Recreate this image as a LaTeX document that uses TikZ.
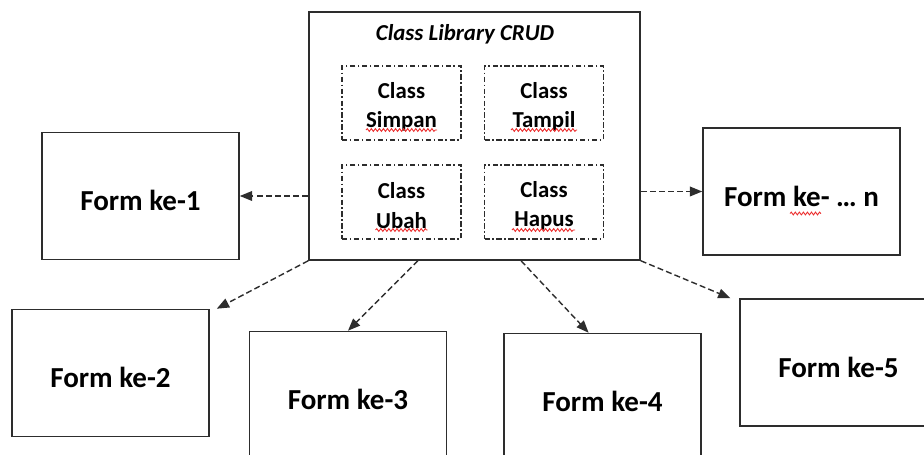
\documentclass[tikz,border=0pt]{standalone}
\usepackage{fontspec}
\setmainfont{Carlito}
\usetikzlibrary{arrows.meta, positioning, calc, decorations.pathmorphing}
\definecolor{boxline}{RGB}{45,45,45}
\definecolor{spellred}{RGB}{235,45,45}
\newcommand{\lowstrut}{\rule{0pt}{13.5pt}}

\begin{document}
\begin{tikzpicture}[x=0.02cm, y=-0.02cm,
    formbox/.style={draw=boxline, line width=0.9pt, minimum width=3.94cm, minimum height=2.54cm, inner sep=0pt, text height=17pt, text depth=0pt, font=\fontsize{16.5}{20}\selectfont\bfseries},
    classbox/.style={draw=boxline, line width=0.6pt, dash pattern=on 3pt off 1.5pt on 0.8pt off 1.5pt, minimum width=2.38cm, minimum height=1.48cm, inner sep=0pt, align=center, font=\fontsize{13}{17}\selectfont\bfseries},
    link/.style={-{Triangle[length=7pt,width=5.5pt]}, boxline, line width=0.8pt, dash pattern=on 3.4pt off 1.8pt},
    spell/.style={spellred, line width=0.5pt, decorate, decoration={snake, amplitude=0.8pt, segment length=2.3pt}}]
\useasboundingbox (0,0) rectangle (924,455);
\clip (0,0) rectangle (924,455);

% Class library box
\node[draw=boxline, line width=0.9pt, minimum width=6.62cm, minimum height=4.96cm] (crud) at (474.5,136) {};
\node[font=\fontsize{13}{16}\selectfont\bfseries\itshape] (title) at (465,34) {Class Library CRUD};

\node[classbox] (simpan) at (401.5,103) {\lowstrut Class\\Simpan};
\node[classbox] (tampil) at (544,103) {\lowstrut Class\\Tampil};
\node[classbox] (ubah) at (401.5,202) {\lowstrut Class\\Ubah};
\node[classbox] (hapus) at (544,202) {\lowstrut Class\\Hapus};

% Forms
\node[formbox] (form1) at (140.5,196) {Form ke-1};
\node[formbox] (formn) at (801.5,191.5) {Form ke- \dots\ n};
\node[formbox] (form2) at (110.5,373) {Form ke-2};
\node[formbox] (form3) at (348,395) {Form ke-3};
\node[formbox] (form4) at (602.5,397) {Form ke-4};
\node[formbox] (form5) at (838.5,362.5) {Form ke-5};

% Links from the library
\draw[link] (crud.west |- form1.east) -- (form1.east);
\draw[link] (crud.east |- formn.west) -- (formn.west);
\draw[link] (crud.south west) -- ([xshift=4]form2.north east);
\draw[link] ($(crud.south west)!0.33!(crud.south east)$) -- (form3.north);
\draw[link] ($(crud.south west)!0.64!(crud.south east)$) -- ($(form4.north west)!0.43!(form4.north east)$);
\draw[link] (crud.south east) -- ([xshift=-5]form5.north west);

% Spelling marks
\draw[spell] ([shift={(-35.5,27)}]simpan.center) -- ([shift={(35.5,27)}]simpan.center);
\draw[spell] ([shift={(-33,27)}]tampil.center) -- ([shift={(33,27)}]tampil.center);
\draw[spell] ([shift={(-26,28)}]ubah.center) -- ([shift={(26,28)}]ubah.center);
\draw[spell] ([shift={(-32,28)}]hapus.center) -- ([shift={(31,28)}]hapus.center);
\draw[spell] ([shift={(-11.5,22)}]formn.center) -- ([shift={(19.5,22)}]formn.center);
\end{tikzpicture}
\end{document}
